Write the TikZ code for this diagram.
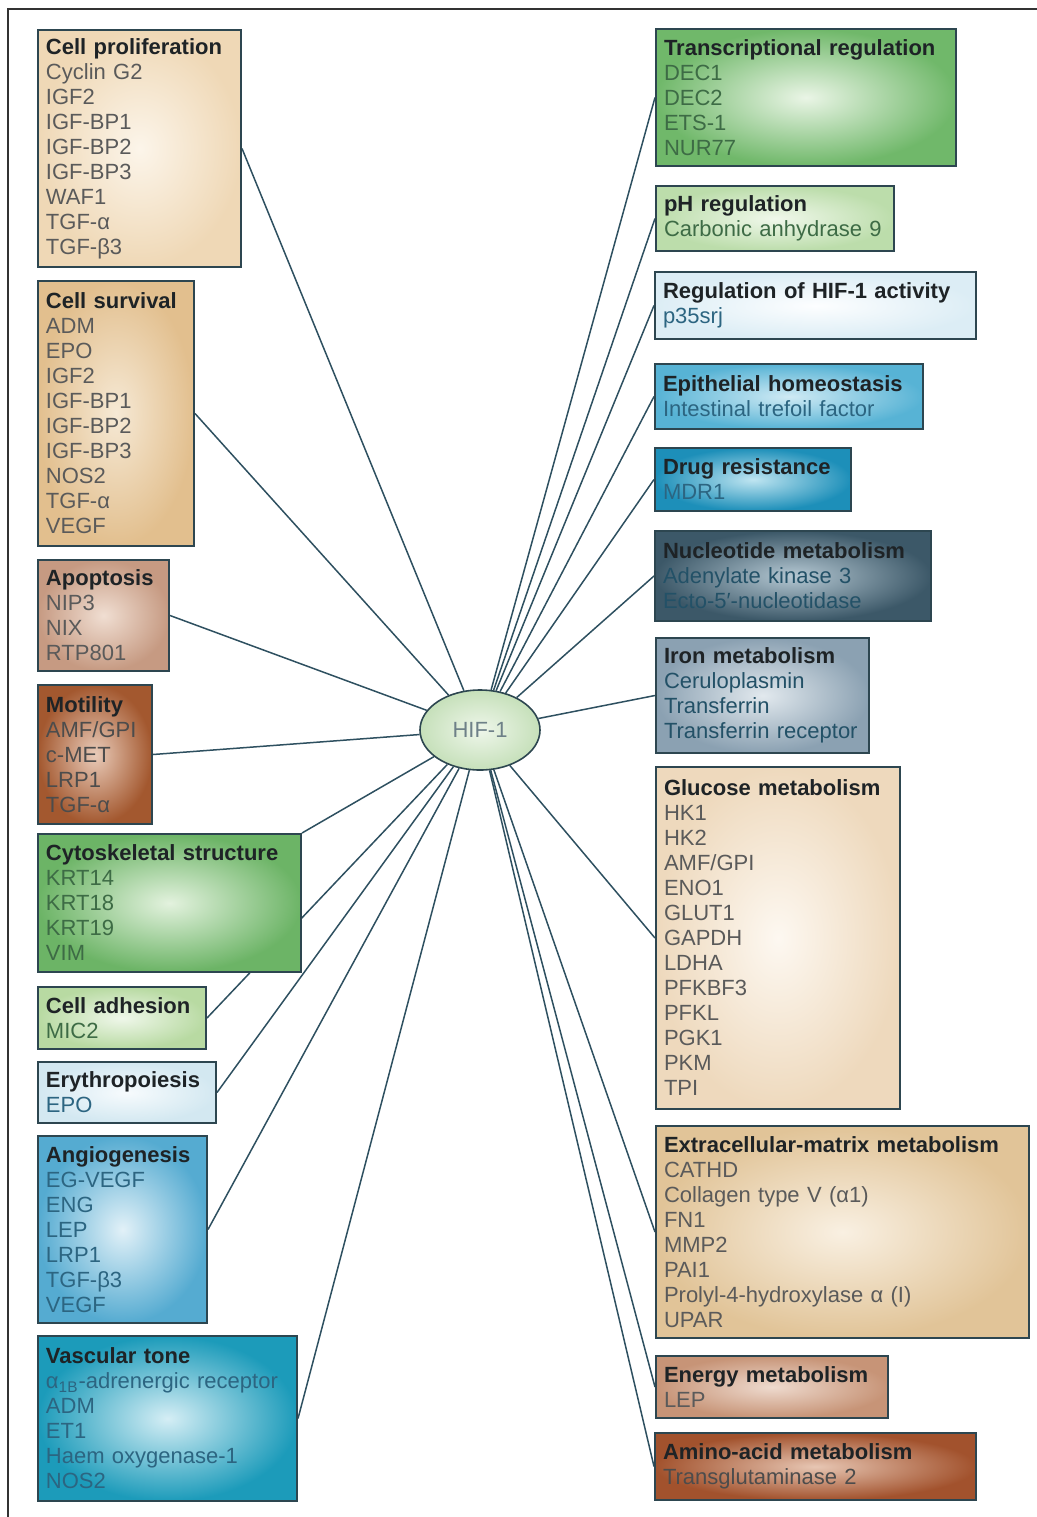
\documentclass[tikz,border=0pt]{standalone}
\usepackage{fontspec}
\setmainfont{Liberation Sans}
\usetikzlibrary{
    shapes.geometric,
    backgrounds
}
\definecolor{boxline}{HTML}{2D4650}
\definecolor{linkcol}{HTML}{2E5060}
\definecolor{framecol}{HTML}{333333}
\definecolor{titletext}{HTML}{1E2326}
\definecolor{itemgray}{HTML}{5A5A5A}
\definecolor{itemgreen}{HTML}{3D6B45}
\definecolor{itemblue}{HTML}{2C6581}
\definecolor{hifout}{HTML}{C6E0BA}
\definecolor{hifin}{HTML}{EEF6EA}
\definecolor{hiftext}{HTML}{6E8088}
% box colours, outer / inner
\definecolor{cpOut}{HTML}{EFD8B6}\definecolor{cpIn}{HTML}{FCF5EA}
\definecolor{csOut}{HTML}{E2BF8E}\definecolor{csIn}{HTML}{F6E9D5}
\definecolor{apOut}{HTML}{C69A82}\definecolor{apIn}{HTML}{F0DED2}
\definecolor{moOut}{HTML}{A3582F}\definecolor{moIn}{HTML}{E9CBB9}
\definecolor{cyOut}{HTML}{6CB466}\definecolor{cyIn}{HTML}{E3F2DE}
\definecolor{caOut}{HTML}{B8DAA2}\definecolor{caIn}{HTML}{EFF7EA}
\definecolor{erOut}{HTML}{D3E8F1}\definecolor{erIn}{HTML}{F7FBFD}
\definecolor{anOut}{HTML}{55ABD1}\definecolor{anIn}{HTML}{E2F1F8}
\definecolor{vtOut}{HTML}{1C9BBA}\definecolor{vtIn}{HTML}{D5EEF5}
\definecolor{trOut}{HTML}{70B86A}\definecolor{trIn}{HTML}{EAF5E6}
\definecolor{phOut}{HTML}{BCDDAB}\definecolor{phIn}{HTML}{F0F8EB}
\definecolor{rgOut}{HTML}{DCEDF5}\definecolor{rgIn}{HTML}{FDFEFF}
\definecolor{epOut}{HTML}{57B3D5}\definecolor{epIn}{HTML}{CFEAF4}
\definecolor{drOut}{HTML}{1D8FB9}\definecolor{drIn}{HTML}{BFE5F1}
\definecolor{nuOut}{HTML}{3C5868}\definecolor{nuIn}{HTML}{B5C8D3}
\definecolor{irOut}{HTML}{8BA1B2}\definecolor{irIn}{HTML}{E2E9EE}
\definecolor{glOut}{HTML}{EED9BD}\definecolor{glIn}{HTML}{FDF8F1}
\definecolor{ecOut}{HTML}{E1C498}\definecolor{ecIn}{HTML}{F9F0E2}
\definecolor{enOut}{HTML}{C79477}\definecolor{enIn}{HTML}{EEDACE}
\definecolor{amOut}{HTML}{A2522D}\definecolor{amIn}{HTML}{E7C6B3}

\begin{document}
\begin{tikzpicture}[x=0.5pt, y=-0.5pt,
    catbox/.style 2 args={draw=boxline, line width=1pt, outer color=#1, inner color=#2,
        anchor=north west, align=left, inner xsep=4pt, inner ysep=1pt,
        font=\fontsize{11}{12.5}\selectfont},
    link/.style={draw=linkcol, line width=0.75pt},
    hifnode/.style={ellipse, draw=boxline, line width=0.8pt, outer color=hifout, inner color=hifin,
        text=hiftext, minimum width=60pt, minimum height=40pt, inner sep=0pt,
        font=\fontsize{11}{12.5}\selectfont}]
    \useasboundingbox (0,0) rectangle (1037,1517);

    % Frame
    \draw[framecol, line width=1pt] (8,1517) -- (8,9) -- (1037,9);

    % Centre
    \node[hifnode] (hif) at (480,730) {HIF-1};

    % Left column
    \node[catbox={cpOut}{cpIn}, text=itemgray, text width=93.5pt, minimum height=118.5pt] (prolif) at (37,29)
        {{\color{titletext}\bfseries Cell proliferation}\\Cyclin G2\\IGF2\\IGF-BP1\\IGF-BP2\\IGF-BP3\\WAF1\\TGF-α\\TGF-β3};
    \node[catbox={csOut}{csIn}, text=itemgray, text width=70pt, minimum height=132.5pt] (surv) at (37,280)
        {{\color{titletext}\bfseries Cell survival}\\ADM\\EPO\\IGF2\\IGF-BP1\\IGF-BP2\\IGF-BP3\\NOS2\\TGF-α\\VEGF};
    \node[catbox={apOut}{apIn}, text=itemgray, text width=57.5pt, minimum height=55.5pt] (apop) at (37,559)
        {{\color{titletext}\bfseries Apoptosis}\\NIP3\\NIX\\RTP801};
    \node[catbox={moOut}{moIn}, text=black!70, text width=49pt, minimum height=69.5pt] (motil) at (37,684)
        {{\color{titletext}\bfseries Motility}\\AMF/GPI\\c-MET\\LRP1\\TGF-α};
    \node[catbox={cyOut}{cyIn}, text=itemgreen, text width=123.5pt, minimum height=69pt] (cyto) at (37,833)
        {{\color{titletext}\bfseries Cytoskeletal structure}\\KRT14\\KRT18\\KRT19\\VIM};
    \node[catbox={caOut}{caIn}, text=itemgreen, text width=76pt, minimum height=31pt] (adhes) at (37,986)
        {{\color{titletext}\bfseries Cell adhesion}\\MIC2};
    \node[catbox={erOut}{erIn}, text=itemblue, text width=81pt, minimum height=30.5pt] (eryth) at (37,1061)
        {{\color{titletext}\bfseries Erythropoiesis}\\EPO};
    \node[catbox={anOut}{anIn}, text=itemblue, text width=76.5pt, minimum height=93.5pt] (angio) at (37,1135)
        {{\color{titletext}\bfseries Angiogenesis}\\EG-VEGF\\ENG\\LEP\\LRP1\\TGF-β3\\VEGF};
    \node[catbox={vtOut}{vtIn}, text=itemblue, text width=121.5pt, minimum height=82.5pt] (vasc) at (37,1335)
        {{\color{titletext}\bfseries Vascular tone}\\α\textsubscript{1B}-adrenergic receptor\\ADM\\ET1\\Haem oxygenase-1\\NOS2};

    % Right column
    \node[catbox={trOut}{trIn}, text=itemgreen, text width=142pt, minimum height=68.5pt] (transc) at (655,28)
        {{\color{titletext}\bfseries Transcriptional regulation}\\DEC1\\DEC2\\ETS-1\\NUR77};
    \node[catbox={phOut}{phIn}, text=itemgreen, text width=111pt, minimum height=32.5pt] (phreg) at (655,185)
        {{\color{titletext}\bfseries pH regulation}\\Carbonic anhydrase 9};
    \node[catbox={rgOut}{rgIn}, text=itemblue, text width=152.5pt, minimum height=33.5pt] (hifreg) at (654,271)
        {{\color{titletext}\bfseries Regulation of HIF-1 activity}\\p35srj};
    \node[catbox={epOut}{epIn}, text=itemblue, text width=126pt, minimum height=32.5pt] (epith) at (654,363)
        {{\color{titletext}\bfseries Epithelial homeostasis}\\Intestinal trefoil factor};
    \node[catbox={drOut}{drIn}, text=itemblue, text width=90pt, minimum height=31.5pt] (drug) at (654,447)
        {{\color{titletext}\bfseries Drug resistance}\\MDR1};
    \node[catbox={nuOut}{nuIn}, text=itemblue!80!black, text width=130pt, minimum height=45pt] (nucl) at (654,530)
        {{\color{titletext}\bfseries Nucleotide metabolism}\\Adenylate kinase 3\\Ecto-5′-nucleotidase};
    \node[catbox={irOut}{irIn}, text=itemblue!80!black, text width=98.5pt, minimum height=57.5pt] (iron) at (655,637)
        {{\color{titletext}\bfseries Iron metabolism}\\Ceruloplasmin\\Transferrin\\Transferrin receptor};
    \node[catbox={glOut}{glIn}, text=itemgray, text width=114pt, minimum height=171pt] (gluc) at (655,766)
        {{\color{titletext}\bfseries Glucose metabolism}\\HK1\\HK2\\AMF/GPI\\ENO1\\GLUT1\\GAPDH\\LDHA\\PFKBF3\\PFKL\\PGK1\\PKM\\TPI};
    \node[catbox={ecOut}{ecIn}, text=itemgray, text width=178.5pt, minimum height=106pt] (ecm) at (655,1125)
        {{\color{titletext}\bfseries Extracellular-matrix metabolism}\\CATHD\\Collagen type V (α1)\\FN1\\MMP2\\PAI1\\Prolyl-4-hydroxylase α (I)\\UPAR};
    \node[catbox={enOut}{enIn}, text=itemgray, text width=108pt, minimum height=31pt] (energy) at (655,1355)
        {{\color{titletext}\bfseries Energy metabolism}\\LEP};
    \node[catbox={amOut}{amIn}, text=black!70, text width=152.5pt, minimum height=33.5pt] (amino) at (654,1432)
        {{\color{titletext}\bfseries Amino-acid metabolism}\\Transglutaminase 2};

    % Links, behind the boxes
    \begin{scope}[on background layer]
        \foreach \cat in {prolif, surv, apop, motil, adhes, eryth, angio, vasc}
            \draw[link] (hif) -- (\cat.east);
        \draw[link] (hif) -- (cyto.north east);
        \foreach \cat in {transc, phreg, hifreg, epith, drug, nucl, iron, gluc, ecm, energy, amino}
            \draw[link] (hif) -- (\cat.west);
    \end{scope}
\end{tikzpicture}
\end{document}
